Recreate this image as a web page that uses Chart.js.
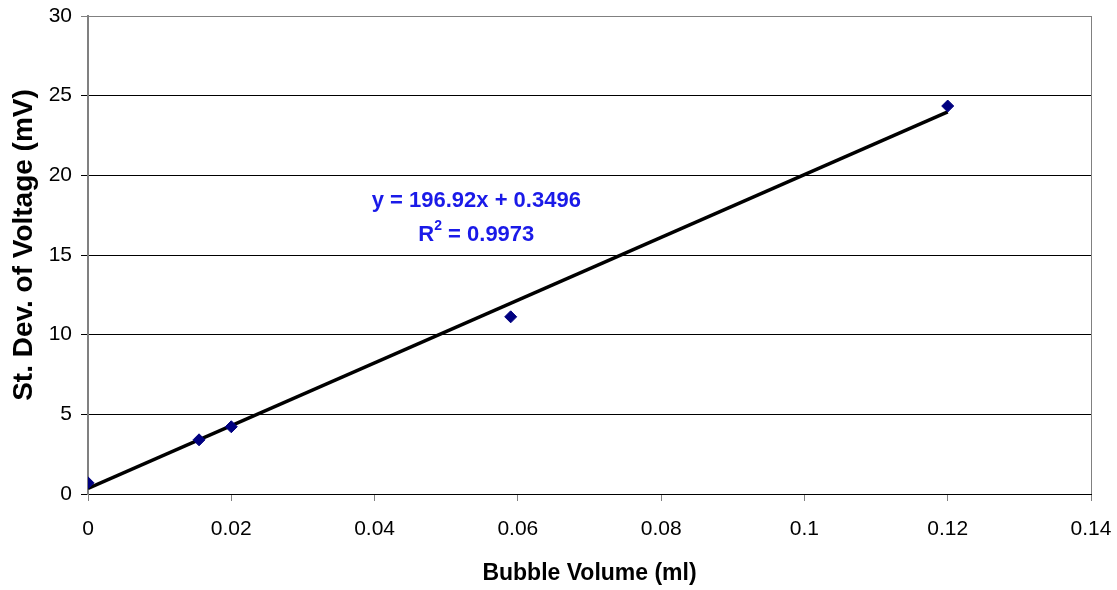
<!DOCTYPE html>
<html>
<head>
<meta charset="utf-8">
<script src="https://cdn.jsdelivr.net/npm/chart.js@4.4.1/dist/chart.umd.min.js"></script>
<style>
  html, body { margin: 0; padding: 0; background: #fff; }
  #wrap { width: 1117px; height: 590px; position: relative; }
</style>
</head>
<body>
<div id="wrap"><canvas id="c" width="1117" height="590"></canvas></div>
<script>
// ---- data ----
const bubbleVolume = [0, 0.0155, 0.02, 0.059, 0.12];
const stDevVoltage = [0.7, 3.4, 4.22, 11.12, 24.35];
const trendX = [0, 0.12];
const trendY = [0.3496, 23.98];
const xTickLabels = ['0', '0.02', '0.04', '0.06', '0.08', '0.1', '0.12', '0.14'];
const yTickLabels = ['0', '5', '10', '15', '20', '25', '30'];
const equationText = 'y = 196.92x + 0.3496';
const r2Label = 'R';
const r2Value = ' = 0.9973';
const xTitle = 'Bubble Volume (ml)';
const yTitle = 'St. Dev. of Voltage (mV)';

const FONT = '"Liberation Sans", Arial, Helvetica, sans-serif';
const GREY = '#808080';

const pointsData = bubbleVolume.map((x, i) => ({ x, y: stDevVoltage[i] }));
const trendData = trendX.map((x, i) => ({ x, y: trendY[i] }));

const annotationPlugin = {
  id: 'annot',
  afterDatasetsDraw(chart) {
    const ctx = chart.ctx;
    const xs = chart.scales.x, ys = chart.scales.y;
    ctx.save();
    // equation
    ctx.fillStyle = '#1a1ae8';
    ctx.font = 'bold 22px ' + FONT;
    ctx.textAlign = 'center';
    ctx.textBaseline = 'middle';
    const cx = xs.getPixelForValue(0.0542);
    ctx.fillText(equationText, cx, ys.getPixelForValue(18.4));
    // R^2 line
    const y2 = ys.getPixelForValue(16.26);
    const wR = ctx.measureText(r2Label).width;
    const wV = ctx.measureText(r2Value).width;
    ctx.font = 'bold 14px ' + FONT;
    const wS = ctx.measureText('2').width;
    const total = wR + wS + wV;
    let sx = cx - total / 2;
    ctx.textAlign = 'left';
    ctx.font = 'bold 22px ' + FONT;
    ctx.fillText(r2Label, sx, y2);
    ctx.font = 'bold 14px ' + FONT;
    ctx.fillText('2', sx + wR, y2 - 9);
    ctx.font = 'bold 22px ' + FONT;
    ctx.fillText(r2Value, sx + wR + wS, y2);
    // y axis title
    ctx.fillStyle = '#000';
    ctx.font = 'bold 28px ' + FONT;
    ctx.translate(24, 245);
    ctx.rotate(-Math.PI / 2);
    ctx.textAlign = 'center';
    ctx.textBaseline = 'middle';
    ctx.fillText(yTitle, 0, 0);
    ctx.restore();
  }
};

new Chart(document.getElementById('c'), {
  type: 'scatter',
  data: {
    datasets: [
      {
        type: 'scatter',
        data: pointsData,
        pointStyle: 'rectRot',
        pointRadius: 6,
        pointHoverRadius: 6,
        backgroundColor: '#000080',
        borderColor: '#000080',
        borderWidth: 1
      },
      {
        type: 'line',
        data: trendData,
        borderColor: '#000',
        borderWidth: 3.5,
        pointRadius: 0,
        fill: false,
        tension: 0
      }
    ]
  },
  options: {
    responsive: false,
    animation: false,
    events: [],
    layout: { padding: { left: 0, right: 26, top: 16, bottom: 0 } },
    plugins: { legend: { display: false }, tooltip: { enabled: false } },
    scales: {
      x: {
        type: 'linear',
        min: 0, max: 0.14,
        afterFit: s => { s.height = 96; s.paddingLeft = 0; s.paddingRight = 0; },
        ticks: {
          stepSize: 0.02,
          color: '#000',
          font: { family: FONT, size: 21 },
          padding: 16,
          maxRotation: 0,
          callback: (v, i) => xTickLabels[i]
        },
        grid: {
          drawOnChartArea: true,
          color: c => (c.index === xTickLabels.length - 1 ? GREY : 'rgba(0,0,0,0)'),
          tickColor: GREY,
          tickLength: 7,
          lineWidth: 1
        },
        border: { display: true, color: '#000', width: 1 },
        title: {
          display: true,
          text: xTitle,
          color: '#000',
          font: { family: FONT, size: 23, weight: 'bold' },
          padding: { top: 0, bottom: 3 }
        }
      },
      y: {
        min: 0, max: 30,
        afterFit: s => { s.width = 88; s.paddingTop = 0; s.paddingBottom = 0; },
        ticks: {
          stepSize: 5,
          color: '#000',
          font: { family: FONT, size: 21 },
          padding: 9,
          callback: (v, i) => yTickLabels[i]
        },
        grid: {
          color: c => (c.index === yTickLabels.length - 1 ? GREY : '#000'),
          tickColor: c => (c.index === yTickLabels.length - 1 ? GREY : '#000'),
          tickLength: 7,
          lineWidth: 1
        },
        border: { display: true, color: GREY, width: 2 }
      }
    }
  },
  plugins: [annotationPlugin]
});
</script>
</body>
</html>
